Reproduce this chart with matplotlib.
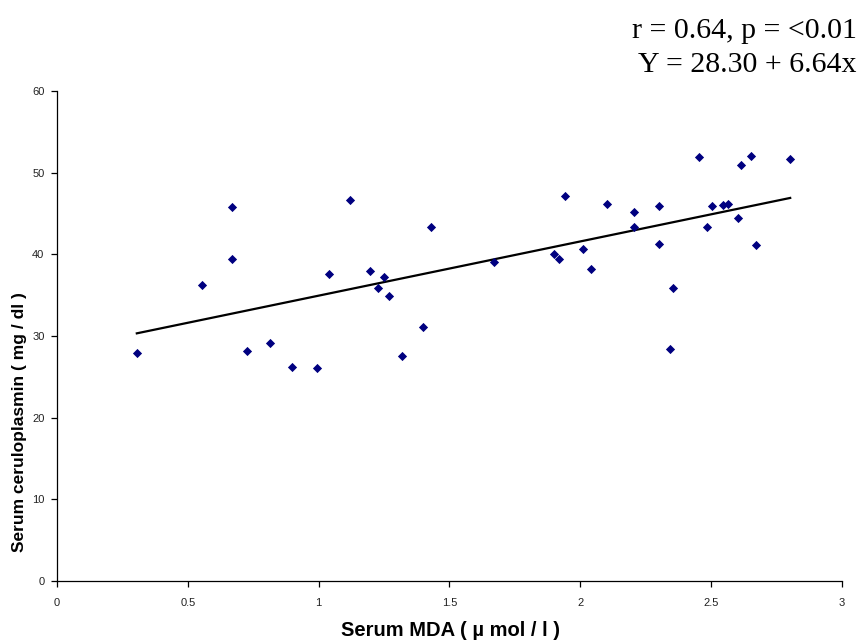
import matplotlib
matplotlib.use("Agg")
import matplotlib.pyplot as plt
import numpy as np

mda = [0.305, 0.553, 0.667, 0.667, 0.725, 0.815, 0.897, 0.995, 1.039, 1.118,
       1.197, 1.228, 1.250, 1.267, 1.320, 1.399, 1.429, 1.670, 1.900, 1.919,
       1.941, 2.011, 2.042, 2.103, 2.204, 2.204, 2.300, 2.300, 2.344, 2.353,
       2.453, 2.483, 2.502, 2.544, 2.563, 2.602, 2.615, 2.654, 2.672, 2.802]
cerulo = [27.9, 36.3, 45.8, 39.4, 28.2, 29.1, 26.2, 26.1, 37.6, 46.6,
          37.9, 35.9, 37.2, 34.9, 27.6, 31.1, 43.3, 39.1, 40.0, 39.4,
          47.1, 40.7, 38.2, 46.2, 45.2, 43.4, 45.9, 41.3, 28.4, 35.9,
          51.9, 43.3, 45.9, 46.1, 46.2, 44.5, 51.0, 52.1, 41.2, 51.7]
intercept = 28.30
slope = 6.64
xticks = [0, 0.5, 1, 1.5, 2, 2.5, 3]
xtick_labels = ["0", "0.5", "1", "1.5", "2", "2.5", "3"]
yticks = [0, 10, 20, 30, 40, 50, 60]
annot_lines = ["r = 0.64, p = <0.01", "Y = 28.30 + 6.64x"]

fig = plt.figure(figsize=(8.6, 6.43), dpi=100)
ax = fig.add_axes([57/860, 1 - 581/643, (842-57)/860, (581-91)/643])

ax.scatter(mda, cerulo, marker='D', s=22, color='#000080', zorder=3, linewidths=0)
xl = np.array([min(mda), max(mda)])
ax.plot(xl, intercept + slope * xl, color='black', lw=1.6, zorder=2)

ax.set_xlim(0, 3)
ax.set_ylim(0, 60)
ax.set_xticks(xticks)
ax.set_xticklabels(xtick_labels)
ax.set_yticks(yticks)
for s in ['top', 'right']:
    ax.spines[s].set_visible(False)
for s in ['left', 'bottom']:
    ax.spines[s].set_linewidth(0.9)
ax.tick_params(direction='out', length=4, width=0.9, labelsize=8,
               colors='black')
ax.tick_params(axis='x', pad=8)
ax.tick_params(axis='y', pad=5)
for lab in ax.get_xticklabels() + ax.get_yticklabels():
    lab.set_family(['Liberation Sans', 'DejaVu Sans'])
    lab.set_color('#222222')

fig.text(450/860, 1 - 631/643, "Serum MDA ( µ mol / l )", fontsize=14.5,
         fontweight='bold', family=['Liberation Sans', 'DejaVu Sans'],
         ha='center', va='center')
fig.text(20/860, 1 - 422/643, "Serum ceruloplasmin ( mg / dl )", fontsize=12.5,
         fontweight='bold', family=['Liberation Sans', 'DejaVu Sans'],
         ha='center', va='center', rotation=90)

fig.text(857/860, 1 - 38/643, annot_lines[0], fontsize=21.5, family=['Liberation Serif'],
         ha='right', va='baseline')
fig.text(857/860, 1 - 72/643, annot_lines[1], fontsize=21.5, family=['Liberation Serif'],
         ha='right', va='baseline')

fig.savefig("out.png", dpi=100, facecolor='white')
